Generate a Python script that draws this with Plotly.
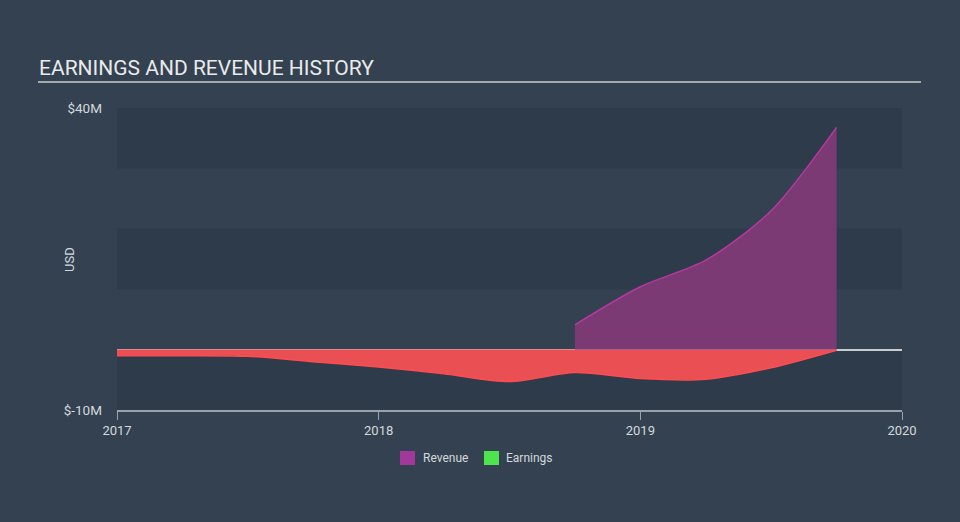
import plotly.graph_objects as go

# Data (decimal years)
rev_x = [2018.75, 2019.0, 2019.25, 2019.5, 2019.75]
rev_y = [4.1, 10.4, 14.8, 23.0, 36.8]

earn_x = [2017.0, 2017.25, 2017.5, 2017.75, 2018.0, 2018.25, 2018.5, 2018.75, 2019.0, 2019.25, 2019.5, 2019.75]
earn_y = [-1.0, -1.0, -1.1, -2.0, -2.9, -4.0, -5.3, -3.8, -4.8, -4.9, -3.0, -0.1]

x_ticks = [2017, 2018, 2019, 2020]
x_ticktext = ["2017", "2018", "2019", "2020"]
y_ticks = [-10, 40]
y_ticktext = ["$-10M", "$40M"]
band_ranges = [(30, 40), (10, 20), (-10, 0)]
legend_names = ["Revenue", "Earnings"]
legend_colors = ["#a3389b", "#4ee44e"]

BG = "#334151"
BAND = "#2e3b4a"
L, R, T, B = 117, 58, 108, 112
PW, PH = 960 - L - R, 522 - T - B


def px(xp):
    return (xp - L) / PW


def py(yp):
    return (522 - B - yp) / PH


fig = go.Figure()

fig.add_trace(go.Scatter(
    x=earn_x, y=earn_y, mode="lines", fill="tozeroy",
    line=dict(color="#ff4c50", width=1.5, shape="spline", smoothing=0.8),
    fillcolor="#ea4f53", showlegend=False, hoverinfo="skip"))

fig.add_trace(go.Scatter(
    x=rev_x, y=rev_y, mode="lines", fill="tozeroy",
    line=dict(color="#b5399f", width=1.5, shape="spline", smoothing=0.8),
    fillcolor="#7b3a74", showlegend=False, hoverinfo="skip"))

shapes = []
for y0, y1 in band_ranges:
    shapes.append(dict(type="rect", xref="paper", x0=0, x1=1, yref="y", y0=y0, y1=y1,
                       fillcolor=BAND, line=dict(width=0), layer="below"))
# title underline
shapes.append(dict(type="line", xref="paper", yref="paper", x0=px(38), x1=px(921),
                   y0=py(82), y1=py(82), line=dict(color="#a4a9ae", width=2)))

annotations = [
    dict(text="EARNINGS AND REVENUE HISTORY", xref="paper", yref="paper",
         x=px(37), y=py(68), xanchor="left", yanchor="middle", showarrow=False,
         font=dict(size=21, color="#eaeaea", family="Roboto")),
    dict(text="USD", xref="paper", yref="paper", x=px(69), y=py(260),
         xanchor="center", yanchor="middle", showarrow=False, textangle=-90,
         font=dict(size=13, color="#d5d9dd", family="Roboto")),
]

# legend (manual)
sw_x = [400, 484]
tx_x = [421, 504]
for name, col, sx, tx in zip(legend_names, legend_colors, sw_x, tx_x):
    shapes.append(dict(type="rect", xref="paper", yref="paper", x0=px(sx), x1=px(sx + 15),
                       y0=py(465), y1=py(451), fillcolor=col, line=dict(width=0)))
    annotations.append(dict(text=name, xref="paper", yref="paper", x=px(tx), y=py(458),
                            xanchor="left", yanchor="middle", showarrow=False,
                            font=dict(size=12, color="#d5d9dd", family="Roboto")))

fig.update_layout(
    width=960, height=522,
    paper_bgcolor=BG, plot_bgcolor="rgba(0,0,0,0)",
    margin=dict(l=L, r=R, t=T, b=B),
    font=dict(family="Roboto", color="#d5d9dd", size=13),
    shapes=shapes,
    annotations=annotations,
    showlegend=False,
    xaxis=dict(range=[2017, 2020], tickvals=x_ticks, ticktext=x_ticktext,
               showgrid=False, zeroline=False, showline=True, linecolor="#9aa3ad", linewidth=1.5,
               ticks="outside", ticklen=8, tickcolor="#9aa3ad", tickwidth=1,
               tickfont=dict(size=13, color="#d5d9dd")),
    yaxis=dict(range=[-10, 40], tickvals=y_ticks, ticktext=y_ticktext,
               showgrid=False, zeroline=True, zerolinecolor="#c9cdd1", zerolinewidth=1.5,
               showline=False, ticks="", ticklabelstandoff=14,
               tickfont=dict(size=13.5, color="#d5d9dd")),
)

fig.write_html("out.html")
